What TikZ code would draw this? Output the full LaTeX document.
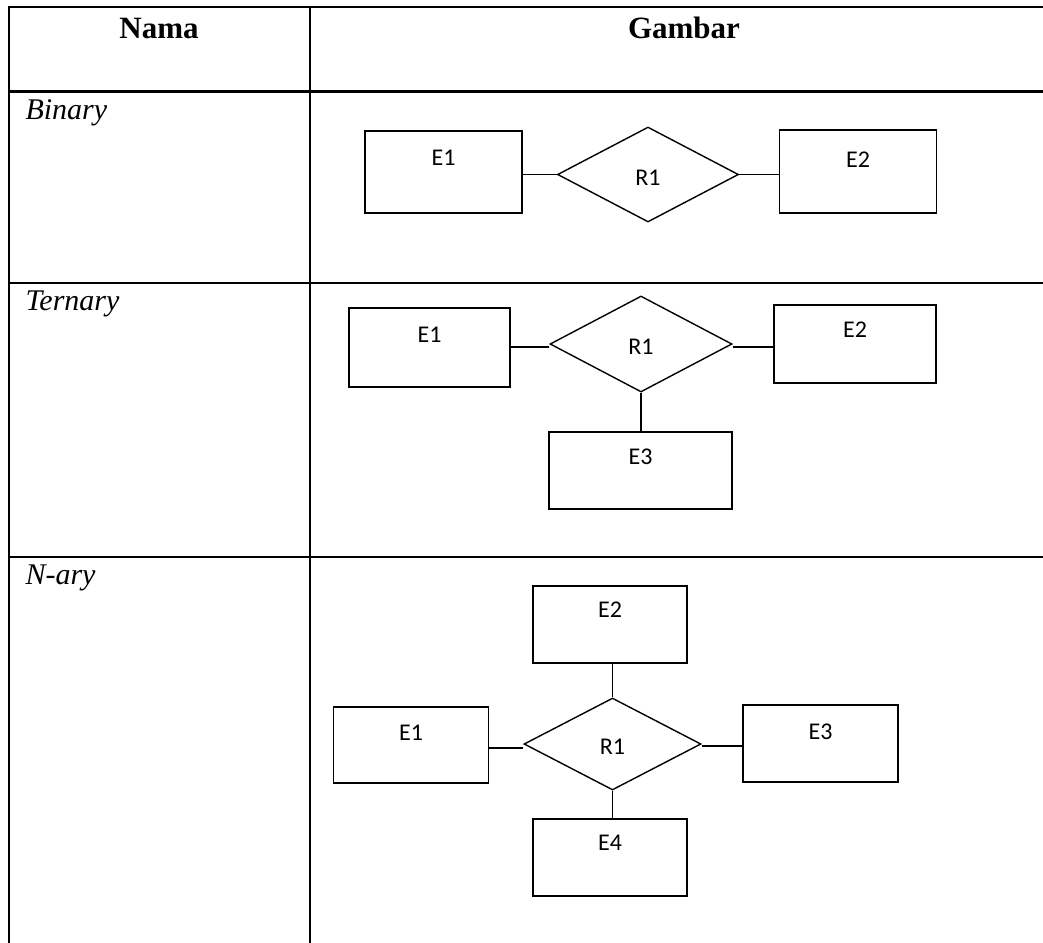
\documentclass[tikz,border=0pt]{standalone}
\usepackage{fontspec}
\setmainfont{Liberation Serif}
\newfontfamily\erfont{Carlito}
\usetikzlibrary{shapes.geometric}
\begin{document}
\begin{tikzpicture}[x=1pt,y=-1pt,
  grid/.style={line width=2.2pt, line cap=rect},
  ent/.style={draw, line width=1.4pt, rectangle, inner sep=0pt},
  rel/.style={draw, line width=1.4pt, diamond, inner sep=0pt},
  conn/.style={line width=1.4pt},
  erlbl/.style={font=\erfont\fontsize{24}{24}\selectfont},
  hd/.style={font=\fontsize{31}{31}\selectfont\bfseries, anchor=base},
  nm/.style={font=\fontsize{30}{30}\selectfont\itshape, anchor=base west}]
\useasboundingbox (0,0) rectangle (1043,942);
% table grid
\draw[grid] (9,942) -- (9,7) -- (1043,7);
\draw[grid] (310,7) -- (310,942);
\draw[grid] (9,91.5) -- (1043,91.5);
\draw[grid] (9,283) -- (1043,283);
\draw[grid] (9,557) -- (1043,557);
% headers
\node[hd] (hnama) at (159,39) {Nama};
\node[hd] (hgambar) at (684,39) {Gambar};
\node[nm] (nbin) at (22,119) {Binary};
\node[nm] (nter) at (22,310) {Ternary};
\node[nm] (nnary) at (22,584) {N-ary};
% Binary
\node[ent, minimum width=157, minimum height=82, label={[erlbl,yshift=14]center:E1}] (bE1) at (443.5,172) {};
\node[rel, minimum width=181, minimum height=95, label={[erlbl,yshift=-3]center:R1}] (bR1) at (648,174.5) {};
\node[ent, minimum width=157, minimum height=83, label={[erlbl,yshift=12]center:E2}] (bE2) at (858,171.5) {};
\draw[conn] (bR1.west) -- (bR1.west -| bE1.east);
\draw[conn] (bR1.east) -- (bR1.east -| bE2.west);
% Ternary
\node[ent, minimum width=161, minimum height=79, label={[erlbl,yshift=12.5]center:E1}] (tE1) at (429.5,347.5) {};
\node[rel, minimum width=182, minimum height=96, label={[erlbl,yshift=-3]center:R1}] (tR1) at (641,344) {};
\node[ent, minimum width=162, minimum height=78, label={[erlbl,yshift=14]center:E2}] (tE2) at (855,344) {};
\node[ent, minimum width=183, minimum height=77, label={[erlbl,yshift=13.5]center:E3}] (tE3) at (640.5,470.5) {};
\draw[conn] ([yshift=-3pt]tR1.west) -- ([yshift=-3pt]tR1.west -| tE1.east);
\draw[conn] ([yshift=-3pt]tR1.east) -- ([yshift=-3pt]tR1.east -| tE2.west);
\draw[conn] (tR1.south) -- (tR1.south |- tE3.north);
% N-ary
\node[ent, minimum width=154, minimum height=77, label={[erlbl,yshift=14.5]center:E2}] (nE2) at (610,624.5) {};
\node[rel, minimum width=177, minimum height=92, label={[erlbl,yshift=-3]center:R1}] (nR1) at (612.5,744) {};
\node[ent, minimum width=155, minimum height=76, label={[erlbl,yshift=12]center:E1}] (nE1) at (411,745) {};
\node[ent, minimum width=155, minimum height=77, label={[erlbl,yshift=11.5]center:E3}] (nE3) at (820.5,743.5) {};
\node[ent, minimum width=154, minimum height=77, label={[erlbl,yshift=14.5]center:E4}] (nE4) at (610,857.5) {};
\draw[conn] ([yshift=-4pt]nR1.west) -- ([yshift=-4pt]nR1.west -| nE1.east);
\draw[conn] ([yshift=-2pt]nR1.east) -- ([yshift=-2pt]nR1.east -| nE3.west);
\draw[conn] (nR1.north) -- (nR1.north |- nE2.south);
\draw[conn] (nR1.south) -- (nR1.south |- nE4.north);
\end{tikzpicture}
\end{document}
